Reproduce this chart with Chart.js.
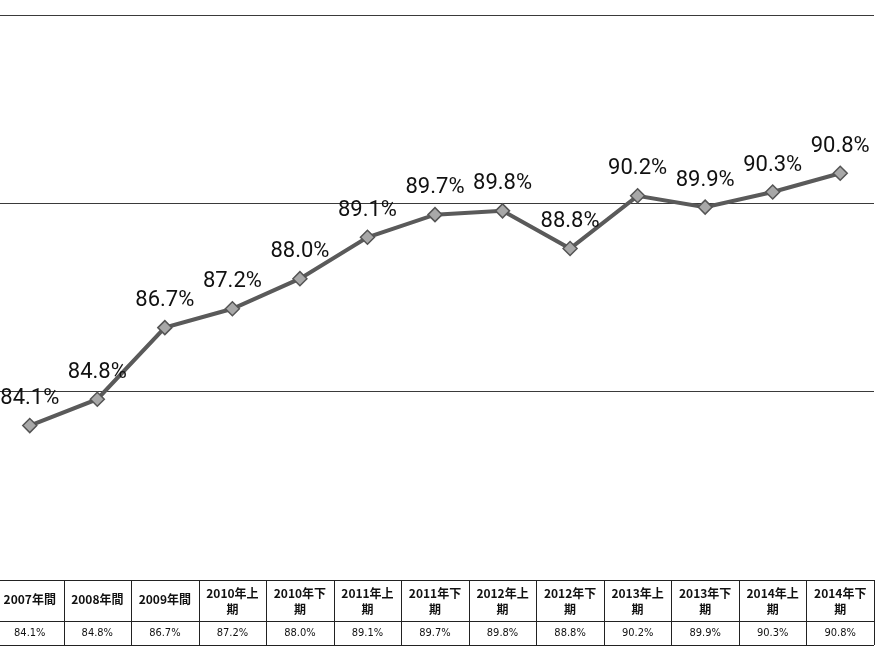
<!DOCTYPE html>
<html>
<head>
<meta charset="utf-8">
<script src="https://cdn.jsdelivr.net/npm/chart.js@4.4.1/dist/chart.umd.min.js"></script>
<style>
  html, body { margin: 0; padding: 0; background: #fff; overflow: hidden; }
  #wrap { position: absolute; left: -4px; top: 0; width: 883px; height: 647px; }
</style>
</head>
<body>
<div id="wrap"><canvas id="rateChart"></canvas></div>
<script>
const categories = ['2007年間', '2008年間', '2009年間', '2010年上期', '2010年下期', '2011年上期', '2011年下期',
    '2012年上期', '2012年下期', '2013年上期', '2013年下期', '2014年上期', '2014年下期'];
const values = [84.1, 84.8, 86.7, 87.2, 88.0, 89.1, 89.7, 89.8, 88.8, 90.2, 89.9, 90.3, 90.8];
const yMin = 80;
const yMax = 95;
const yStep = 5;

const fmt = v => v.toFixed(1) + '%';

// labels above each point
const pointLabels = {
    id: 'pointLabels',
    afterDatasetsDraw(chart) {
        const ctx = chart.ctx;
        const meta = chart.getDatasetMeta(0);
        ctx.save();
        ctx.font = '22px Roboto, "DejaVu Sans Condensed", sans-serif';
        ctx.fillStyle = '#111';
        ctx.textAlign = 'center';
        ctx.textBaseline = 'bottom';
        meta.data.forEach((pt, i) => {
            ctx.fillText(fmt(values[i]), pt.x, pt.y - 16);
        });
        ctx.restore();
    }
};

// data table under the plot
const dataTable = {
    id: 'dataTable',
    afterDraw(chart) {
        const ctx = chart.ctx;
        const area = chart.chartArea;
        const xs = chart.scales.x;
        const band = (area.right - area.left) / categories.length;
        const top = area.bottom, mid = top + 41, bottom = top + 65;
        ctx.save();
        ctx.strokeStyle = '#222';
        ctx.lineWidth = 1;
        ctx.beginPath();
        [top, mid, bottom].forEach(y => {
            ctx.moveTo(area.left, y + 0.5);
            ctx.lineTo(area.right, y + 0.5);
        });
        for (let i = 0; i <= categories.length; i++) {
            const x = Math.round(area.left + i * band) + 0.5;
            ctx.moveTo(x, top);
            ctx.lineTo(x, bottom);
        }
        ctx.stroke();

        ctx.fillStyle = '#111';
        ctx.textAlign = 'center';
        ctx.textBaseline = 'middle';
        ctx.font = 'bold 12px "Noto Sans CJK TC", sans-serif';
        categories.forEach((c, i) => {
            const cx = xs.getPixelForValue(i);
            if (c.length > 6) {
                ctx.fillText(c.slice(0, 6), cx, top + 13);
                ctx.fillText(c.slice(6), cx, top + 29);
            } else {
                ctx.fillText(c, cx, top + 19);
            }
        });
        ctx.font = '11px "DejaVu Sans Condensed", sans-serif';
        values.forEach((v, i) => {
            ctx.fillText(fmt(v), xs.getPixelForValue(i), mid + 12);
        });
        ctx.restore();
    }
};

new Chart(document.getElementById('rateChart'), {
    type: 'line',
    data: {
        labels: categories,
        datasets: [{
            data: values,
            borderColor: '#5a5a5a',
            borderWidth: 4,
            pointStyle: 'rectRot',
            pointRadius: 7,
            pointBackgroundColor: '#a8a8a8',
            pointBorderColor: '#555',
            pointBorderWidth: 1.5,
            tension: 0
        }]
    },
    options: {
        responsive: true,
        maintainAspectRatio: false,
        devicePixelRatio: 1,
        animation: false,
        layout: { autoPadding: false, padding: { left: 0, right: 5, top: 15, bottom: 67 } },
        plugins: { legend: { display: false }, tooltip: { enabled: false } },
        scales: {
            x: { type: 'category', offset: true, display: false },
            y: {
                min: yMin,
                max: yMax,
                ticks: { display: false, stepSize: yStep },
                border: { display: false },
                grid: { color: '#3a3a3a', lineWidth: 1, drawTicks: false }
            }
        }
    },
    plugins: [pointLabels, dataTable]
});
</script>
</body>
</html>
